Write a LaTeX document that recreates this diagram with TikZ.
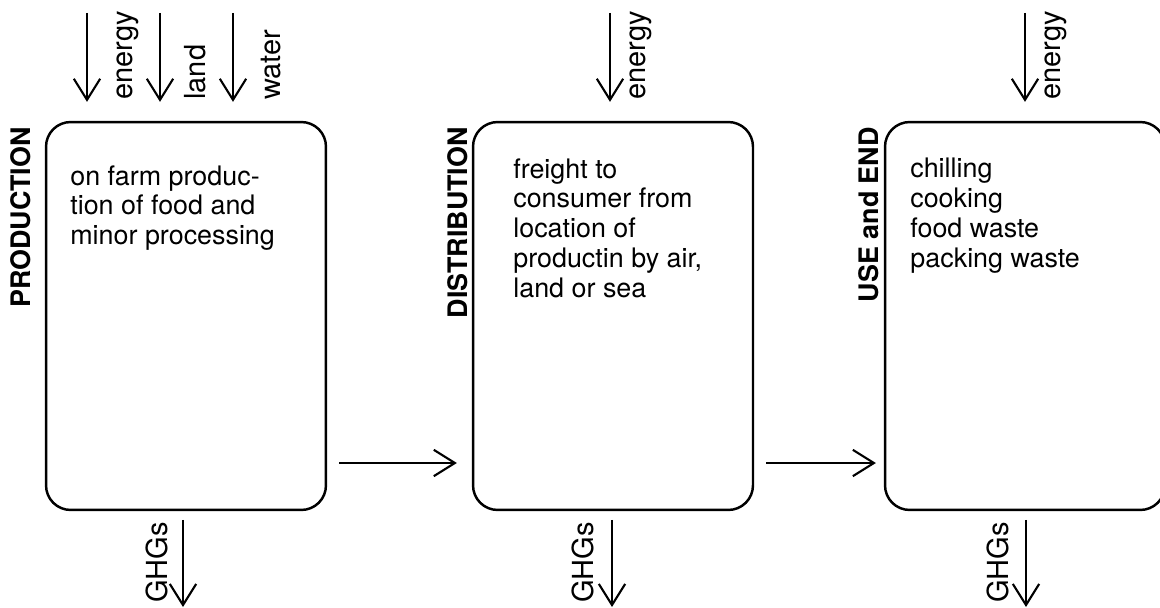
\documentclass[tikz,border=0pt]{standalone}
\usepackage{fontspec}
\setmainfont{TeX Gyre Heros}
\usetikzlibrary{arrows.meta}

\begin{document}
\begin{tikzpicture}[x=0.02cm,y=-0.02cm,
  stage/.style={draw, line width=1.4pt, rounded corners=14pt, minimum width=5.6cm, minimum height=7.76cm, inner sep=0pt},
  flow/.style={line width=1.2pt, -{Straight Barb[length=12pt,width=15pt,line width=1.2pt]}},
  body/.style={font=\fontsize{15.3}{17}\selectfont, align=left, inner sep=0pt, anchor=north west},
  tag/.style={font=\fontsize{16.5}{17}\selectfont, inner sep=0pt, rotate=90, anchor=base west},
  phase/.style={font=\fontsize{15.3}{17}\selectfont\bfseries, inner sep=0pt, rotate=90, anchor=base east}]
\useasboundingbox (0,0) rectangle (1160,608);
%% stages
\node [stage] (prod) at (186,316) {};
\node [stage] (dist) at (613,316) {};
\node [stage] (use) at (1025,316) {};
\node [phase] (prodname) at (31,127) {PRODUCTION};
\node [phase] (distname) at (467,127) {DISTRIBUTION};
\node [phase] (usename) at (878,127) {USE and END};
\node [body] (prodtext) at (70,165) {on farm produc-\\tion of food and\\minor processing};
\node [body] (disttext) at (513,158) {freight to\\consumer from\\location of\\productin by air,\\land or sea};
\node [body] (usetext) at (910,158) {chilling\\cooking\\food waste\\packing waste};
%% flow between stages
\coordinate (flowy) at (0,463);
\draw [flow, shorten <=6.8pt, shorten >=8.5pt] (prod.east |- flowy) -- (dist.west |- flowy);
\draw [flow, shorten <=6.8pt, shorten >=4.5pt] (dist.east |- flowy) -- (use.west |- flowy);
%% inputs
\coordinate (in1) at (87,13);
\coordinate (in2) at (160,13);
\coordinate (in3) at (233,13);
\coordinate (in4) at (610,13);
\coordinate (in5) at (1025,13);
\draw [flow, shorten >=10.8pt] (in1) -- (in1 |- prod.north);
\draw [flow, shorten >=10.8pt] (in2) -- (in2 |- prod.north);
\draw [flow, shorten >=10.8pt] (in3) -- (in3 |- prod.north);
\draw [flow, shorten >=10.8pt] (in4) -- (in4 |- dist.north);
\draw [flow, shorten >=10.8pt] (in5) -- (in5 |- use.north);
\node [tag] (energy1) at (132,100) {energy};
\node [tag] (land1) at (205,100) {land};
\node [tag] (water1) at (280,100) {water};
\node [tag] (energy2) at (645,100) {energy};
\node [tag] (energy3) at (1060,100) {energy};
%% outputs
\coordinate (out1) at (183,607);
\coordinate (out2) at (612,607);
\coordinate (out3) at (1026,607);
\draw [flow, shorten <=5pt] (out1 |- prod.south) -- (out1);
\draw [flow, shorten <=5pt] (out2 |- dist.south) -- (out2);
\draw [flow, shorten <=5pt] (out3 |- use.south) -- (out3);
\node [tag] (ghg1) at (167,603) {GHGs};
\node [tag] (ghg2) at (593,603) {GHGs};
\node [tag] (ghg3) at (1008,603) {GHGs};
\end{tikzpicture}
\end{document}
